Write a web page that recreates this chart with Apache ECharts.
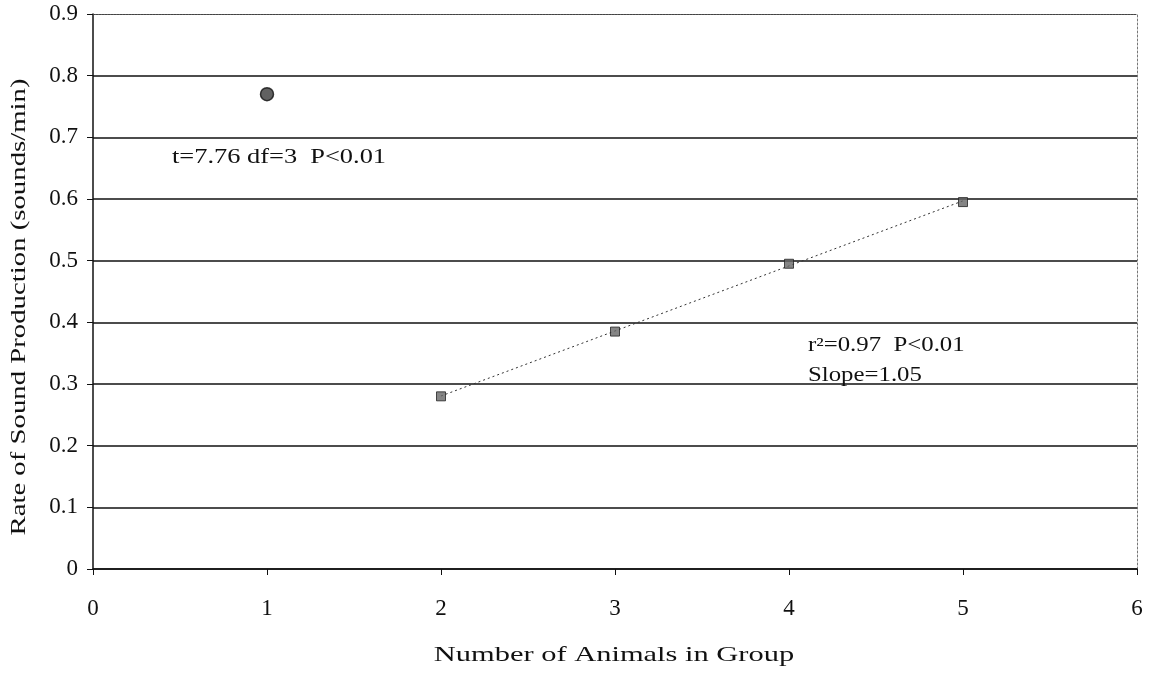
<!DOCTYPE html>
<html>
<head>
<meta charset="utf-8">
<script src="https://cdn.jsdelivr.net/npm/echarts@6/dist/echarts.min.js"></script>
<style>
  html, body { margin: 0; padding: 0; background: #fff; }
  #chart { width: 1149px; height: 675px; }
</style>
</head>
<body>
<div id="chart"></div>
<script>
// Single animals
const soloX = [1];
const soloY = [0.77];
// Animals in groups
const groupX = [2, 3, 4, 5];
const groupY = [0.28, 0.385, 0.495, 0.595];
const xTicks = [0, 1, 2, 3, 4, 5, 6];
const yTicks = [0, 0.1, 0.2, 0.3, 0.4, 0.5, 0.6, 0.7, 0.8, 0.9];

const xTitle = 'Number of Animals in Group';
const yTitle = 'Rate of Sound Production (sounds/min)';
const soloStats = 't=7.76 df=3  P<0.01';
const groupStats = 'r²=0.97  P<0.01';
const groupSlope = 'Slope=1.05';

// Least-squares trend line across the group points
function fitLine(xs, ys) {
  const n = xs.length;
  const mx = xs.reduce((a, b) => a + b, 0) / n;
  const my = ys.reduce((a, b) => a + b, 0) / n;
  let sxy = 0, sxx = 0;
  for (let i = 0; i < n; i++) {
    sxy += (xs[i] - mx) * (ys[i] - my);
    sxx += (xs[i] - mx) * (xs[i] - mx);
  }
  const b = sxy / sxx;
  const a = my - b * mx;
  const x0 = Math.min(...xs), x1 = Math.max(...xs);
  return [[x0, a + b * x0], [x1, a + b * x1]];
}
const trend = fitLine(groupX, groupY);

const serif = '"Liberation Serif", "DejaVu Serif", serif';
// Top gridline is left to the dotted frame
const gridColors = yTicks.map((v, i) => i === yTicks.length - 1 ? 'rgba(0,0,0,0)' : '#111');

function label(text, x, y, opts) {
  return Object.assign({
    type: 'text', x: x, y: y, silent: true,
    style: {
      text: text, font: (opts.size || 20) + 'px ' + serif, fill: '#111',
      align: opts.align || 'left', verticalAlign: 'middle'
    }
  }, opts.extra || {});
}

const chart = echarts.init(document.getElementById('chart'), null, { renderer: 'canvas' });
chart.setOption({
  animation: false,
  backgroundColor: '#fff',
  grid: { left: 93, right: 12, top: 14, bottom: 106 },
  xAxis: [{
    type: 'value', min: xTicks[0], max: xTicks[xTicks.length - 1], interval: 1,
    axisLine: { show: true, onZero: false, lineStyle: { color: '#111', width: 1.5 } },
    axisTick: { show: true, inside: false, length: 6, lineStyle: { color: '#111' } },
    axisLabel: { color: '#111', fontFamily: serif, fontSize: 23, margin: 28 },
    splitLine: { show: false }
  }, {
    type: 'value', position: 'top', min: xTicks[0], max: xTicks[xTicks.length - 1],
    axisLine: { show: true, onZero: false, lineStyle: { color: '#444', width: 1.2, type: [2, 1] } },
    axisTick: { show: false }, axisLabel: { show: false }, splitLine: { show: false }
  }],
  yAxis: [{
    type: 'value', min: 0, max: 0.9, interval: 0.1,
    axisLine: { show: true, onZero: false, lineStyle: { color: '#111', width: 1.5 } },
    axisTick: { show: true, inside: false, length: 6, lineStyle: { color: '#111' } },
    axisLabel: { color: '#111', fontFamily: serif, fontSize: 23, margin: 15,
      formatter: v => v === 0 ? '0' : v.toFixed(1) },
    splitLine: { show: true, lineStyle: { color: gridColors, width: 1.5 } }
  }, {
    type: 'value', position: 'right', min: 0, max: 0.9,
    axisLine: { show: true, onZero: false, lineStyle: { color: '#777', width: 1, type: [2, 2] } },
    axisTick: { show: false }, axisLabel: { show: false }, splitLine: { show: false }
  }],
  series: [{
    name: 'Trend', type: 'line', data: trend, symbol: 'none', z: 2,
    lineStyle: { color: '#333', width: 1, type: [2, 3] }
  }, {
    name: 'Single', type: 'scatter', data: soloX.map((x, i) => [x, soloY[i]]),
    symbol: 'circle', symbolSize: 13, z: 3,
    itemStyle: { color: '#3a3a3a', borderColor: '#111', borderWidth: 1.5 }
  }, {
    name: 'Groups', type: 'scatter', data: groupX.map((x, i) => [x, groupY[i]]),
    symbol: 'rect', symbolSize: 9, z: 3,
    itemStyle: { color: '#666', borderColor: '#222', borderWidth: 1 }
  }],
  graphic: [
    label(xTitle, 614, 655, { size: 21, align: 'center', extra: { scaleX: 1.45 } }),
    label(yTitle, 19, 307, { size: 21, align: 'center',
      extra: { rotation: Math.PI / 2, scaleX: 1.37 } }),
    label(soloStats, 172, 158, { size: 20, extra: { scaleX: 1.32 } }),
    label(groupStats, 808, 346, { size: 20, extra: { scaleX: 1.24 } }),
    label(groupSlope, 808, 376, { size: 20, extra: { scaleX: 1.24 } })
  ]
});
</script>
</body>
</html>
